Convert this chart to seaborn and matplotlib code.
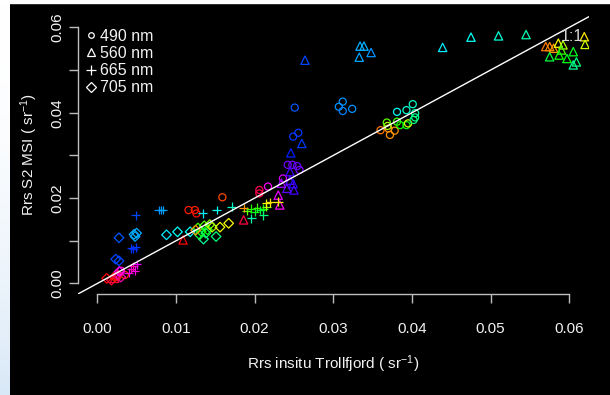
import numpy as np
import pandas as pd
import matplotlib
matplotlib.use("Agg")
import matplotlib.pyplot as plt
from matplotlib.lines import Line2D
import seaborn as sns

# Remote-sensing reflectance: in situ (x) vs Sentinel-2 MSI (y), per band.
# Each point carries a station hue (rainbow position, 0..1).
x_490 = [0.0360, 0.0370, 0.0372, 0.0378, 0.0369, 0.0368, 0.0381, 0.0385, 0.0393, 0.0395,
         0.0381, 0.0401, 0.0393, 0.0404, 0.0402, 0.0404,
         0.0312, 0.0307, 0.0312, 0.0324,
         0.0251, 0.02555, 0.0249,
         0.0242, 0.0248, 0.0254, 0.0257,
         0.0236, 0.0217, 0.0206, 0.0206,
         0.0116, 0.0124, 0.0126, 0.0159,
         0.0025, 0.0035, 0.0030]
y_490 = [0.0359, 0.0363, 0.0348, 0.0358, 0.0369, 0.0377, 0.0379, 0.0371, 0.0371, 0.0375,
         0.0402, 0.0420, 0.0406, 0.0399, 0.0383, 0.0389,
         0.0426, 0.0414, 0.0404, 0.0409,
         0.0412, 0.0353, 0.0344,
         0.0278, 0.0278, 0.0275, 0.0266,
         0.0246, 0.0227, 0.0219, 0.0211,
         0.0172, 0.0172, 0.0164, 0.0202,
         0.0015, 0.0020, 0.0030]
h_490 = [0.08, 0.09, 0.10, 0.10, 0.22, 0.28, 0.30, 0.33, 0.35, 0.20,
         0.50, 0.47, 0.48, 0.45, 0.42, 0.43,
         0.58, 0.58, 0.59, 0.58,
         0.62, 0.64, 0.64,
         0.75, 0.75, 0.74, 0.76,
         0.82, 0.85, 0.95, 0.97,
         0.02, 0.02, 0.01, 0.05,
         0.00, 0.03, 0.88]

x_560 = [0.0264, 0.0334, 0.0339, 0.0333, 0.0348, 0.0439, 0.0475, 0.0510, 0.0545,
         0.0570, 0.0575, 0.0580, 0.0586, 0.0592, 0.0590, 0.0575, 0.0587, 0.0597,
         0.0605, 0.0609, 0.0605, 0.0619, 0.0620,
         0.0260, 0.0246,
         0.0245, 0.0245, 0.0249, 0.0241, 0.0250, 0.0234,
         0.0230, 0.0232,
         0.0186, 0.0109, 0.0022]
y_560 = [0.0523, 0.0556, 0.0556, 0.0530, 0.0541, 0.0553, 0.0577, 0.0580, 0.0583,
         0.0555, 0.0555, 0.0551, 0.0563, 0.0559, 0.0547, 0.0531, 0.0535, 0.0527,
         0.0543, 0.0519, 0.0512, 0.0578, 0.0560,
         0.0328, 0.0306,
         0.0262, 0.0242, 0.0234, 0.0223, 0.0219, 0.0235,
         0.0207, 0.0184,
         0.0149, 0.0102, 0.0012]
h_560 = [0.63, 0.56, 0.56, 0.57, 0.58, 0.52, 0.50, 0.48, 0.46,
         0.08, 0.09, 0.10, 0.17, 0.22, 0.30, 0.38, 0.33, 0.35,
         0.36, 0.42, 0.44, 0.16, 0.20,
         0.64, 0.66,
         0.72, 0.73, 0.70, 0.74, 0.72, 0.78,
         0.83, 0.85,
         0.97, 0.00, 0.98]

x_665 = [0.0049, 0.0078, 0.0081, 0.0083,
         0.0134, 0.0152, 0.0171,
         0.0043, 0.0049, 0.0046,
         0.0190, 0.0195, 0.0200, 0.0203, 0.0207, 0.0211, 0.0215, 0.0196, 0.0211, 0.0186,
         0.0230, 0.0215, 0.0220,
         0.0040, 0.0043, 0.0046, 0.0048, 0.0050]
y_665 = [0.0160, 0.0172, 0.0172, 0.0172,
         0.0164, 0.0172, 0.0180,
         0.0082, 0.0085, 0.0081,
         0.0170, 0.0175, 0.0168, 0.0178, 0.0172, 0.0175, 0.0180, 0.0153, 0.0160, 0.0177,
         0.0192, 0.0188, 0.0190,
         0.0025, 0.0035, 0.0040, 0.0030, 0.0045]
h_665 = [0.63, 0.58, 0.58, 0.57,
         0.52, 0.50, 0.47,
         0.64, 0.64, 0.65,
         0.28, 0.32, 0.36, 0.30, 0.38, 0.34, 0.25, 0.45, 0.42, 0.10,
         0.16, 0.17, 0.15,
         0.85, 0.88, 0.90, 0.86, 0.83]

x_705 = [0.00276, 0.00467, 0.0050, 0.0048,
         0.00234, 0.00276,
         0.0088, 0.0102, 0.0118,
         0.0135, 0.0151,
         0.0167, 0.0156,
         0.0128, 0.0132, 0.0136, 0.0140, 0.0143, 0.0130, 0.0138, 0.0146, 0.0125,
         0.0012, 0.0018, 0.0022, 0.0026, 0.0030, 0.0028]
y_705 = [0.0107, 0.0115, 0.0118, 0.0110,
         0.0057, 0.0053,
         0.0114, 0.0121, 0.0121,
         0.0104, 0.0110,
         0.0141, 0.0132,
         0.0130, 0.0122, 0.0135, 0.0126, 0.0138, 0.0114, 0.0118, 0.0132, 0.0125,
         0.0012, 0.0008, 0.0016, 0.0020, 0.0015, 0.0028]
h_705 = [0.62, 0.56, 0.56, 0.57,
         0.63, 0.63,
         0.52, 0.50, 0.50,
         0.44, 0.42,
         0.17, 0.18,
         0.30, 0.33, 0.28, 0.35, 0.25, 0.38, 0.40, 0.22, 0.10,
         0.00, 0.98, 0.02, 0.95, 0.90, 0.85]

bands = ["490 nm", "560 nm", "665 nm", "705 nm"]
markers = ["o", "^", "+", "D"]
sizes = [26, 36, 40, 24]

df = pd.concat([
    pd.DataFrame({"insitu": xs, "msi": ys, "station": hs, "band": b})
    for xs, ys, hs, b in zip([x_490, x_560, x_665, x_705],
                             [y_490, y_560, y_665, y_705],
                             [h_490, h_560, h_665, h_705], bands)
], ignore_index=True)

sns.set_style("dark")
plt.rcParams["font.family"] = ["Liberation Sans", "DejaVu Sans"]
plt.rcParams["mathtext.default"] = "regular"

W, H = 610, 395
fig = plt.figure(figsize=(W / 100, H / 100), dpi=100, facecolor="black")

# white page margin at the top and a soft left edge
fig.patches.append(plt.Rectangle((0, 1 - 3 / H), 1, 3 / H, transform=fig.transFigure,
                                 color="white", zorder=0))
edge = fig.add_axes([0, 0, 10 / W, 1])
grad = np.linspace(0, 1, 256)[:, None]
top_c = np.array([1.0, 1.0, 1.0])
bot_c = np.array([0.85, 0.91, 0.97])
img = top_c + (bot_c - top_c) * grad[..., None] ** 2
edge.imshow(np.repeat(img, 2, axis=1), aspect="auto")
edge.axis("off")

ax = fig.add_axes([78 / W, (H - 294) / H, (589 - 78) / W, (294 - 15.8) / H])
ax.set_facecolor("black")

for band, mk, sz in zip(bands, markers, sizes):
    sub = df[df["band"] == band]
    sns.scatterplot(data=sub, x="insitu", y="msi", hue="station", palette="hsv",
                    hue_norm=(0, 1), marker=mk, s=sz, legend=False, ax=ax)
    coll = ax.collections[-1]
    cols = coll.get_facecolors()
    coll.set_facecolors("none")
    coll.set_edgecolors(cols)
    coll.set_linewidths(0.9)

ax.axline((0, 0), slope=1, color="white", lw=1.0, zorder=5)
ax.text(0.0603, 0.0578, "1:1", color="#d8d8d8", fontsize=11.5, ha="center", va="center",
        zorder=6)

ax.set_xlim(-0.00245, 0.0625)
ax.set_ylim(-0.00246, 0.0627)
ax.grid(False)

for s in ["top", "right"]:
    ax.spines[s].set_visible(False)
for s in ["left", "bottom"]:
    ax.spines[s].set_visible(True)
    ax.spines[s].set_color("#bdbdbd")
    ax.spines[s].set_linewidth(1.0)
ax.spines["bottom"].set_bounds(0, 0.06)
ax.spines["left"].set_bounds(0, 0.06)

xt = [0.00, 0.01, 0.02, 0.03, 0.04, 0.05, 0.06]
yt = [0.00, 0.01, 0.02, 0.03, 0.04, 0.05, 0.06]
ax.set_xticks(xt)
ax.set_xticklabels([f"{v:.2f}" for v in xt])
ax.set_yticks(yt)
ax.set_yticklabels([f"{v:.2f}" if i % 2 == 0 else "" for i, v in enumerate(yt)],
                   rotation=90, va="center")
ax.tick_params(axis="both", colors="#bdbdbd", labelcolor="#f2f2f2", length=6.5,
               width=1.0, direction="out", labelsize=11)
ax.tick_params(axis="x", pad=14, bottom=True)
ax.tick_params(axis="y", pad=3, left=True)

ax.set_xlabel("Rrs insitu Trollfjord ( sr$^{-1}$)", color="#f2f2f2", fontsize=11,
              labelpad=12)
ax.set_ylabel("Rrs S2 MSI ( sr$^{-1}$)", color="#f2f2f2", fontsize=11, labelpad=8)

handles = [Line2D([], [], marker=m, ls="none", color="white", mfc="none", ms=ms, mew=0.9)
           for m, ms in zip(markers, [4, 6, 7, 5])]
leg = ax.legend(handles, bands, loc="upper left", bbox_to_anchor=(86 / W, 1 - 29 / H),
                bbox_transform=fig.transFigure, frameon=False, fontsize=11.5,
                handlelength=0.6, handletextpad=0.3, labelspacing=0.13, borderpad=0,
                borderaxespad=0)
for t in leg.get_texts():
    t.set_color("#f2f2f2")

fig.savefig("out.png", dpi=100, facecolor="black")
